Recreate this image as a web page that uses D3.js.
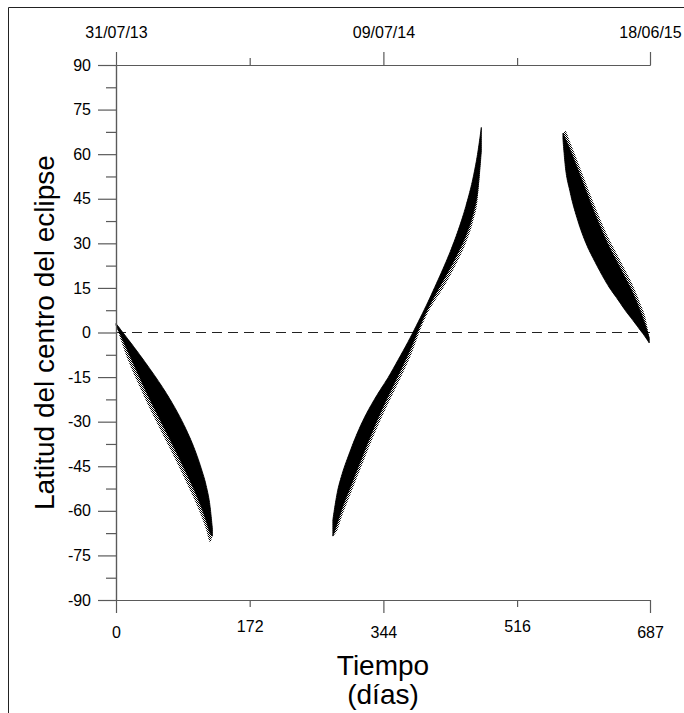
<!DOCTYPE html>
<html>
<head>
<meta charset="utf-8">
<script src="https://cdn.jsdelivr.net/npm/d3@7"></script>
<style>
  html, body { margin: 0; padding: 0; background: #fff; }
  svg { display: block; }
  text { font-family: "Liberation Sans", Arial, sans-serif; fill: #000; }
</style>
</head>
<body>
<svg id="chart" width="684" height="713"></svg>
<script>
// Eclipse-centre latitude (degrees) vs. elapsed days, as three bands.
// Each band is bounded by an upper and lower latitude edge per day.
const band1Days  = [0, 10, 20, 30, 40, 50, 60, 70, 80, 90, 100, 110, 116, 121, 124];
const band1Upper = [3, -0.4, -3.8, -7.3, -10.9, -14.6, -18.5, -22.7, -27.3, -32.5, -38.5, -46, -51.5, -58.5, -66];
const band1Lower = [2.5, -3.2, -9, -14.8, -20.5, -25.8, -31, -36.2, -41.5, -46.9, -52.5, -58.8, -63.2, -67.4, -68.5];

const band2Days  = [279, 285, 290, 300, 310, 320, 330, 340, 350, 360, 370, 380, 390, 400, 410, 420, 430, 440, 450, 460, 465, 470];
const band2Upper = [-63, -53.4, -48.4, -40.8, -34.1, -28.4, -23.6, -19.3, -15.2, -10.6, -5.9, -1.0, 4.2, 9.5, 15.2, 21, 27.2, 34.2, 42.4, 52.8, 59.8, 69];
const band2Lower = [-68.5, -63.8, -59.7, -52.9, -46.2, -39.6, -33.1, -27.0, -21.4, -16.0, -10.5, -4.8, 1.6, 7.4, 12.4, 17.1, 21.8, 26.9, 32.6, 40.6, 46.8, 61];

const band3Days  = [575, 578, 584, 593, 605, 615, 623, 635, 644, 655, 665, 675, 681, 686];
const band3Upper = [67, 65.2, 61.6, 55.6, 47.4, 40.6, 35.5, 28.5, 24.0, 18.4, 13.2, 6.8, 2.5, -1.8];
const band3Lower = [65, 56, 47.5, 38.6, 29.8, 24.4, 20.4, 15.0, 11.7, 7.5, 4.1, 0.6, -1.5, -3.5];

// Axis ticks and labels
const dayMajorTicks = [0, 344, 687];
const dayMinorTicks = [172, 516];
const dateLabels = ["31/07/13", "09/07/14", "18/06/15"];
const latMajorTicks = [-90, -75, -60, -45, -30, -15, 0, 15, 30, 45, 60, 75, 90];
const latMinorTicks = [-82.5, -67.5, -52.5, -37.5, -22.5, -7.5, 7.5, 22.5, 37.5, 52.5, 67.5, 82.5];

const xTitle = ["Tiempo", "(días)"];
const yTitle = "Latitud del centro del eclipse";

const svg = d3.select("#chart");

// sparse-dot texture for the thinner scatter along one edge of each band
const defs = svg.append("defs");
const pat = defs.append("pattern").attr("id", "speckle")
  .attr("patternUnits", "userSpaceOnUse").attr("width", 2).attr("height", 2);
pat.append("rect").attr("x", 0).attr("y", 0).attr("width", 1).attr("height", 1).attr("fill", "#000");
pat.append("rect").attr("x", 1).attr("y", 1).attr("width", 1).attr("height", 1).attr("fill", "#000");

// outer frame
svg.append("path")
  .attr("d", "M8.5,713 V7.5 H684")
  .attr("fill", "none").attr("stroke", "#222").attr("stroke-width", 1);

const x = d3.scaleLinear().domain([0, 687]).range([116, 650]);
const y = d3.scaleLinear().domain([-90, 90]).range([600, 65]);

const axisColor = "#5a5a5a";
function styleAxis(g) {
  g.selectAll("path.domain").attr("stroke", axisColor).attr("stroke-width", 1.2);
  g.selectAll(".tick line").attr("stroke", axisColor).attr("stroke-width", 1.2);
  g.selectAll(".tick text").attr("font-size", 16).attr("font-family", "Liberation Sans, Arial, sans-serif").attr("fill", "#000");
}

// zero latitude reference line
svg.append("line")
  .attr("x1", x(0)).attr("x2", x(687))
  .attr("y1", y(0)).attr("y2", y(0))
  .attr("stroke", "#222").attr("stroke-width", 1)
  .attr("stroke-dasharray", "10,6");

// bands: speckled halo on the sparse side, then the dense core
const bands = [
  { days: band1Days, hi: band1Upper, lo: band1Lower, side: "lo", spread: 3.2 },
  { days: band2Days, hi: band2Upper, lo: band2Lower, side: "lo", spread: 2.6 },
  { days: band3Days, hi: band3Upper, lo: band3Lower, side: "hi", spread: 2.6 }
];
const area = d3.area()
  .x(d => x(d.day))
  .y0(d => y(d.lo))
  .y1(d => y(d.hi))
  .curve(d3.curveMonotoneX);
bands.forEach(b => {
  const pts = b.days.map((d, i) => ({ day: d, hi: b.hi[i], lo: b.lo[i] }));
  const last = pts.length - 1;
  const halo = pts.map((p, i) => {
    const w = (i === 0 || i === last) ? 0 : b.spread * Math.min(1, (p.hi - p.lo) / 4);
    return b.side === "lo" ? { day: p.day, hi: p.hi, lo: p.lo - w } : { day: p.day, hi: p.hi + w, lo: p.lo };
  });
  svg.append("path").attr("d", area(halo)).attr("fill", "url(#speckle)");
  svg.append("path").attr("d", area(pts)).attr("fill", "#000").attr("stroke", "#000").attr("stroke-width", 0.8);
});

const plain = d => String(d);

// left axis: major ticks with labels, minor ticks without
svg.append("g").attr("transform", `translate(${x(0)},0)`)
  .call(d3.axisLeft(y).tickValues(latMinorTicks).tickSize(10).tickSizeOuter(0).tickFormat(""))
  .call(styleAxis);
svg.append("g").attr("transform", `translate(${x(0)},0)`)
  .call(d3.axisLeft(y).tickValues(latMajorTicks).tickSize(18).tickSizeOuter(0).tickPadding(7).tickFormat(plain))
  .call(styleAxis);

// bottom axis (days)
svg.append("g").attr("transform", `translate(0,${y(-90)})`)
  .call(d3.axisBottom(x).tickValues(dayMajorTicks).tickSize(13).tickSizeOuter(0).tickPadding(14).tickFormat(plain))
  .call(styleAxis);
svg.append("g").attr("transform", `translate(0,${y(-90)})`)
  .call(d3.axisBottom(x).tickValues(dayMinorTicks).tickSize(7).tickSizeOuter(0).tickPadding(14).tickFormat(plain))
  .call(styleAxis);

// top axis (dates)
svg.append("g").attr("transform", `translate(0,${y(90)})`)
  .call(d3.axisTop(x).tickValues(dayMajorTicks).tickSize(13).tickSizeOuter(0).tickPadding(14)
    .tickFormat((d, i) => dateLabels[i]))
  .call(styleAxis);
svg.append("g").attr("transform", `translate(0,${y(90)})`)
  .call(d3.axisTop(x).tickValues(dayMinorTicks).tickSize(7).tickSizeOuter(0).tickFormat(""))
  .call(styleAxis);

// titles
svg.append("text")
  .attr("x", (x(0) + x(687)) / 2).attr("y", 675)
  .attr("text-anchor", "middle").attr("font-size", 28)
  .text(xTitle[0]);
svg.append("text")
  .attr("x", (x(0) + x(687)) / 2).attr("y", 704)
  .attr("text-anchor", "middle").attr("font-size", 28)
  .text(xTitle[1]);
svg.append("text")
  .attr("transform", `translate(54,${y(0)}) rotate(-90)`)
  .attr("text-anchor", "middle").attr("font-size", 28)
  .text(yTitle);
</script>
</body>
</html>
